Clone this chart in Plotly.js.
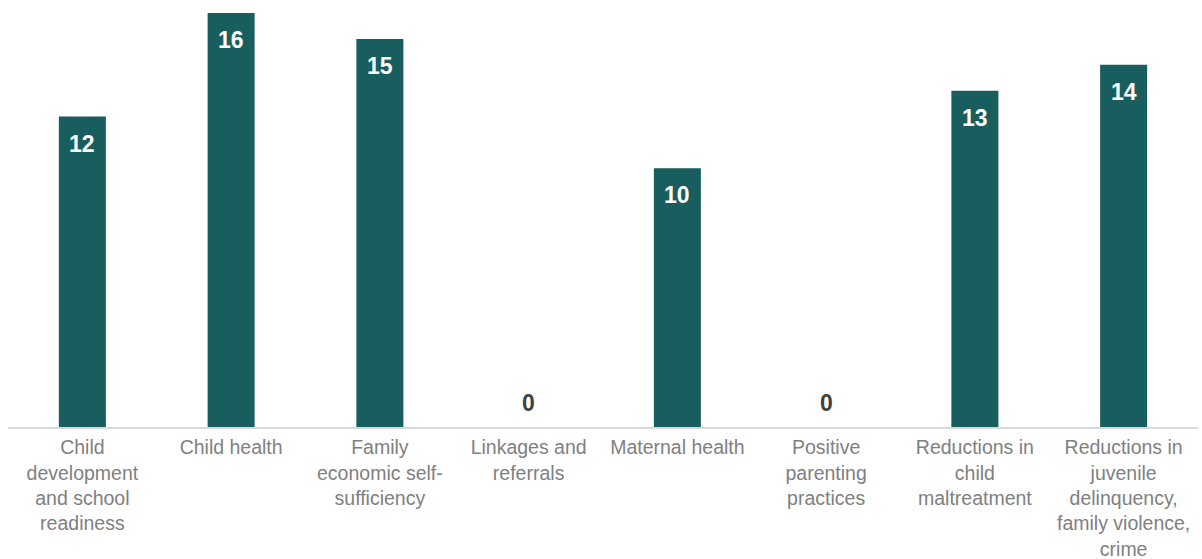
<!DOCTYPE html>
<html>
<head>
<meta charset="utf-8">
<script src="https://cdn.plot.ly/plotly-3.0.1.min.js"></script>
<style>html,body{margin:0;padding:0;background:#fff;}#chart{width:1202px;height:559px;}</style>
</head>
<body>
<div id="chart"></div>
<script>
const categories = [
  "Child<br>development<br>and school<br>readiness",
  "Child health",
  "Family<br>economic self-<br>sufficiency",
  "Linkages and<br>referrals",
  "Maternal health",
  "Positive<br>parenting<br>practices",
  "Reductions in<br>child<br>maltreatment",
  "Reductions in<br>juvenile<br>delinquency,<br>family violence,<br>crime"
];
const counts = [12, 16, 15, 0, 10, 0, 13, 14];

const barColor = "#185E5E";

const annotations = counts.map((v, i) => ({
  x: categories[i],
  y: v,
  xref: "x",
  yref: "y",
  text: "<b>" + v + "</b>",
  showarrow: false,
  yanchor: "middle",
  yshift: v > 0 ? -27 : 24,
  font: {family: "Liberation Sans, Arial, sans-serif", size: 23, color: v > 0 ? "#ffffff" : "#404040"}
}));

Plotly.newPlot("chart", [{
  type: "bar",
  x: categories,
  y: counts,
  marker: {color: barColor},
  hoverinfo: "none"
}], {
  width: 1202,
  height: 559,
  margin: {l: 8, r: 4, t: 13, b: 132},
  paper_bgcolor: "#ffffff",
  plot_bgcolor: "#ffffff",
  bargap: 0.684,
  showlegend: false,
  xaxis: {
    type: "category",
    range: [-0.5, 7.5],
    showline: true,
    linecolor: "#d9d9d9",
    linewidth: 2,
    ticks: "",
    showgrid: false,
    zeroline: false,
    tickangle: 0,
    ticklabelstandoff: 2,
    tickfont: {family: "Liberation Sans, Arial, sans-serif", size: 19.5, color: "#808080"}
  },
  yaxis: {
    range: [0, 16],
    visible: false,
    showgrid: false,
    zeroline: false
  },
  annotations: annotations
}, {displayModeBar: false, staticPlot: true});
</script>
</body>
</html>
